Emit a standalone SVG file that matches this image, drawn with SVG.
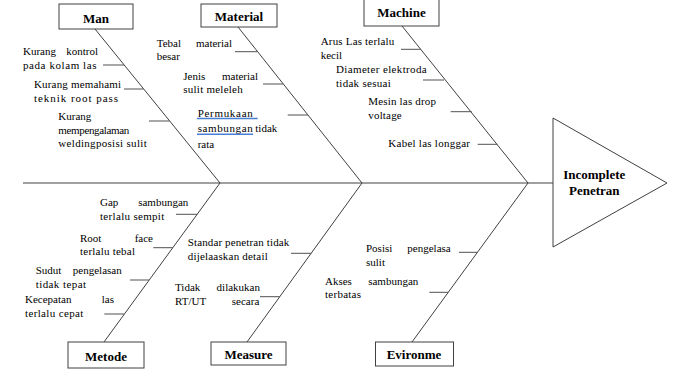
<svg xmlns="http://www.w3.org/2000/svg" width="686" height="381" viewBox="0 0 686 381">
<style>
.box{fill:#fff;stroke:#404040;stroke-width:1}
.lbl{font-family:'Liberation Serif','Times New Roman',serif;font-weight:bold;font-size:13px;text-anchor:middle;fill:#000}
.c{font-family:'Liberation Serif','Times New Roman',serif;font-size:11px;fill:#000}
.e{text-anchor:end}
.ln{stroke:#404040;stroke-width:1;fill:none}
.tk{stroke:#505050;stroke-width:1;fill:none}
.sq{stroke:#4a7fd8;stroke-width:1.5}
</style>
<rect width="686" height="381" fill="#fff"/>
<g id="connectors">
<line class="ln" x1="23" y1="183" x2="553" y2="183"/>
<polyline class="ln" points="95,29 220,183 104,342"/>
<polyline class="ln" points="238,27 362,183 247,342"/>
<polyline class="ln" points="402,26 528,183 412,342"/>
<line class="tk" x1="103" y1="65" x2="124" y2="65"/>
<line class="tk" x1="124" y1="89" x2="143.5" y2="89"/>
<line class="tk" x1="149" y1="121" x2="169.5" y2="121"/>
<line class="tk" x1="235" y1="51.7" x2="257" y2="51.7"/>
<line class="tk" x1="263" y1="84" x2="283" y2="84"/>
<line class="tk" x1="287.7" y1="115" x2="308" y2="115"/>
<line class="tk" x1="401" y1="49.3" x2="420.7" y2="49.3"/>
<line class="tk" x1="423" y1="80" x2="444" y2="80"/>
<line class="tk" x1="450.7" y1="111.7" x2="471.7" y2="111.7"/>
<line class="tk" x1="477.7" y1="144.3" x2="497.3" y2="144.3"/>
<line class="tk" x1="176" y1="214.3" x2="197.2" y2="214.3"/>
<line class="tk" x1="153.3" y1="247.7" x2="172.8" y2="247.7"/>
<line class="tk" x1="130" y1="280" x2="149" y2="280"/>
<line class="tk" x1="104.3" y1="314" x2="124.4" y2="314"/>
<line class="tk" x1="291" y1="253.3" x2="311.1" y2="253.3"/>
<line class="tk" x1="260" y1="296.7" x2="279.8" y2="296.7"/>
<line class="tk" x1="459" y1="252.3" x2="477.4" y2="252.3"/>
<line class="tk" x1="429.3" y1="292.3" x2="448.3" y2="292.3"/>
</g>
<g id="head">
<polygon class="box" points="553,118 667,183 553,247"/>
<text class="lbl" x="594.3" y="178.5">Incomplete</text>
<text class="lbl" x="594.3" y="195">Penetran</text>
</g>
<g id="man">
<rect class="box" x="59" y="4" width="74" height="25"/>
<text class="lbl" x="96" y="22.5">Man</text>
<text class="c" x="23" y="55">Kurang</text><text class="c e" x="98" y="55">kontrol</text>
<text class="c" x="23" y="68.5" textLength="73.5" lengthAdjust="spacing">pada kolam las</text>
<text class="c" x="34" y="87.5" textLength="87" lengthAdjust="spacing">Kurang memahami</text>
<text class="c" x="34" y="101.5" textLength="84" lengthAdjust="spacing">teknik root pass</text>
<text class="c" x="58.3" y="120">Kurang</text>
<text class="c" x="58.3" y="133.5" textLength="71" lengthAdjust="spacing">mempengalaman</text>
<text class="c" x="58.3" y="147.3" textLength="88.4" lengthAdjust="spacing">weldingposisi sulit</text>
</g>
<g id="material">
<rect class="box" x="201" y="4" width="76" height="23"/>
<text class="lbl" x="239" y="21">Material</text>
<text class="c" x="156.7" y="46.5">Tebal</text><text class="c e" x="232" y="46.5">material</text>
<text class="c" x="156.7" y="60">besar</text>
<text class="c" x="183.3" y="80">Jenis</text><text class="c e" x="258" y="80">material</text>
<text class="c" x="183.3" y="93" textLength="59.4" lengthAdjust="spacing">sulit meleleh</text>
<text class="c" x="197.7" y="117" textLength="55" lengthAdjust="spacing">Permukaan</text>
<text class="c" x="197.7" y="132.3" textLength="55" lengthAdjust="spacing">sambungan</text><text class="c e" x="277.3" y="132.3">tidak</text>
<text class="c" x="197.7" y="147.5">rata</text>
<line class="sq" x1="197" y1="118.6" x2="257.7" y2="118.6"/>
<line class="sq" x1="197" y1="134.3" x2="253" y2="134.3"/>
</g>
<g id="machine">
<rect class="box" x="364" y="-1" width="75" height="27"/>
<text class="lbl" x="401.5" y="16.7">Machine</text>
<text class="c" x="320.7" y="45" textLength="73.6" lengthAdjust="spacing">Arus Las terlalu</text>
<text class="c" x="320.7" y="58.5">kecil</text>
<text class="c" x="336" y="73" textLength="90.7" lengthAdjust="spacing">Diameter elektroda</text>
<text class="c" x="336" y="86.5" textLength="54.7" lengthAdjust="spacing">tidak sesuai</text>
<text class="c" x="368.3" y="105" textLength="67.7" lengthAdjust="spacing">Mesin las drop</text>
<text class="c" x="368.3" y="118.5" textLength="33.4" lengthAdjust="spacing">voltage</text>
<text class="c" x="388.3" y="147" textLength="81.7" lengthAdjust="spacing">Kabel las longgar</text>
</g>
<g id="metode">
<rect class="box" x="68" y="342" width="76" height="26"/>
<text class="lbl" x="106" y="361">Metode</text>
<text class="c" x="100" y="206">Gap</text><text class="c e" x="188.3" y="206">sambungan</text>
<text class="c" x="100" y="219.5" textLength="64.3" lengthAdjust="spacing">terlalu sempit</text>
<text class="c" x="80" y="241.7">Root</text><text class="c e" x="153" y="241.7">face</text>
<text class="c" x="80" y="255" textLength="55" lengthAdjust="spacing">terlalu tebal</text>
<text class="c" x="35.7" y="274.3">Sudut</text><text class="c e" x="121.7" y="274.3">pengelasan</text>
<text class="c" x="35.7" y="288.3" textLength="50.3" lengthAdjust="spacing">tidak tepat</text>
<text class="c" x="25" y="303.3">Kecepatan</text><text class="c e" x="114" y="303.3">las</text>
<text class="c" x="25" y="316.7" textLength="58.3" lengthAdjust="spacing">terlalu cepat</text>
</g>
<g id="measure">
<rect class="box" x="211" y="342" width="75" height="23"/>
<text class="lbl" x="248.5" y="359.3">Measure</text>
<text class="c" x="187.7" y="245.7" textLength="101.6" lengthAdjust="spacing">Standar penetran tidak</text>
<text class="c" x="187.7" y="260" textLength="80" lengthAdjust="spacing">dijelaaskan detail</text>
<text class="c" x="175" y="290.7">Tidak</text><text class="c e" x="260" y="290.7">dilakukan</text>
<text class="c" x="175" y="305">RT/UT</text><text class="c e" x="259.3" y="305">secara</text>
</g>
<g id="evironme">
<rect class="box" x="375.5" y="342" width="78" height="24"/>
<text class="lbl" x="414" y="359">Evironme</text>
<text class="c" x="366" y="252.3">Posisi</text><text class="c e" x="450.7" y="252.3">pengelasa</text>
<text class="c" x="366" y="265.7">sulit</text>
<text class="c" x="325" y="285">Akses</text><text class="c e" x="418.3" y="285">sambungan</text>
<text class="c" x="325" y="298.3" textLength="36" lengthAdjust="spacing">terbatas</text>
</g>
</svg>
